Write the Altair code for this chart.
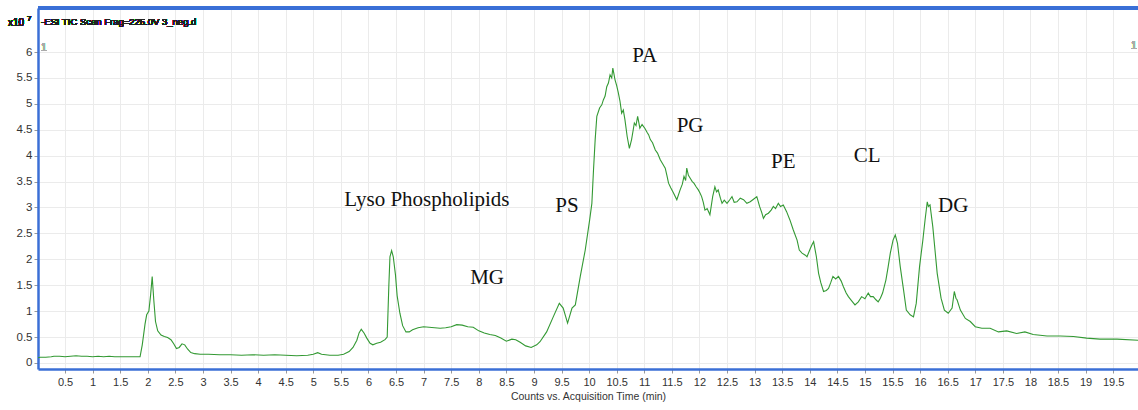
import altair as alt
import pandas as pd

# Retention time (min) and TIC counts (x10^7)
time_min = [
    0.00, 0.05, 0.15, 0.25, 0.30, 0.40, 0.50, 0.60, 0.70, 0.80, 0.90, 1.00, 1.10, 1.20, 1.30,
    1.40, 1.50, 1.60, 1.70, 1.80, 1.86,
    1.90, 1.95, 1.98, 2.02, 2.05, 2.08, 2.11, 2.14, 2.18, 2.24, 2.30, 2.36, 2.42, 2.47, 2.52,
    2.57, 2.62, 2.67, 2.72, 2.78, 2.85, 2.95, 3.10, 3.30, 3.50, 3.70, 3.90, 4.10, 4.30, 4.50,
    4.70, 4.90, 5.00, 5.08, 5.15, 5.30, 5.45, 5.55, 5.65, 5.72, 5.79, 5.83, 5.87, 5.92, 5.97,
    6.03, 6.08, 6.15, 6.22, 6.30, 6.34, 6.37, 6.39, 6.42, 6.45, 6.49, 6.52, 6.57, 6.62, 6.68,
    6.74, 6.80, 6.90, 7.00, 7.10, 7.20, 7.30, 7.40, 7.50, 7.60, 7.70, 7.80, 7.90, 8.00, 8.10,
    8.20, 8.30, 8.40, 8.50, 8.60, 8.67, 8.75, 8.85, 8.95, 9.05, 9.11,
    9.23, 9.35, 9.46, 9.53, 9.61, 9.69, 9.75, 9.84, 9.93, 10.01, 10.05, 10.08, 10.11, 10.14,
    10.19, 10.23, 10.26, 10.29, 10.32, 10.35, 10.38, 10.41, 10.43, 10.45, 10.47, 10.50, 10.53,
    10.56, 10.59, 10.62, 10.65, 10.69, 10.73, 10.77, 10.80, 10.82, 10.85, 10.88, 10.92, 10.96,
    11.01, 11.05, 11.08, 11.11, 11.15, 11.20, 11.24, 11.29, 11.33, 11.38, 11.41, 11.44, 11.48,
    11.53, 11.59, 11.65, 11.69, 11.72, 11.75, 11.77, 11.80, 11.83, 11.87, 11.90, 11.94, 11.98,
    12.01, 12.04, 12.07, 12.10, 12.14, 12.19, 12.24, 12.28, 12.31, 12.34, 12.38, 12.41, 12.45,
    12.50, 12.55, 12.59, 12.63, 12.68, 12.74, 12.80, 12.86, 12.92, 12.98, 13.04, 13.07, 13.09,
    13.13, 13.16, 13.20, 13.25, 13.30, 13.34, 13.38, 13.43, 13.47, 13.52, 13.58, 13.64, 13.70,
    13.77, 13.81, 13.86, 13.92, 13.95, 14.01, 14.04, 14.07, 14.12, 14.16, 14.20, 14.25, 14.30,
    14.34, 14.38, 14.42, 14.47, 14.52, 14.57, 14.61, 14.66, 14.70, 14.76, 14.82, 14.88, 14.94,
    15.00, 15.06, 15.10, 15.15, 15.20, 15.24, 15.28, 15.32, 15.38, 15.42, 15.46, 15.51, 15.55,
    15.59, 15.64, 15.70, 15.75, 15.82, 15.88, 15.93, 15.99, 16.05, 16.09, 16.13, 16.15, 16.18,
    16.23, 16.27, 16.31, 16.38, 16.44, 16.51, 16.58, 16.62, 16.65, 16.67, 16.73, 16.82, 16.91,
    17.00, 17.12, 17.27, 17.42, 17.57, 17.75, 17.90, 18.05, 18.30, 18.54, 18.78, 19.02, 19.26,
    19.57, 19.95,
]
tic = [
    0.10, 0.11, 0.11, 0.12, 0.13, 0.13, 0.12, 0.13, 0.14, 0.13, 0.13, 0.12, 0.13, 0.12, 0.13,
    0.12, 0.12, 0.12, 0.12, 0.12, 0.12,
    0.35, 0.75, 0.93, 1.00, 1.30, 1.67, 1.20, 0.80, 0.62, 0.54, 0.51, 0.49, 0.45, 0.37, 0.28,
    0.30, 0.37, 0.35, 0.27, 0.20, 0.18, 0.17, 0.17, 0.16, 0.16, 0.15, 0.16, 0.15, 0.16, 0.15,
    0.14, 0.15, 0.17, 0.20, 0.17, 0.15, 0.15, 0.17, 0.22, 0.30, 0.44, 0.58, 0.65, 0.58, 0.48,
    0.38, 0.35, 0.38, 0.40, 0.45, 0.50, 1.50, 2.05, 2.17, 2.05, 1.70, 1.30, 0.96, 0.72, 0.60,
    0.60, 0.64, 0.68, 0.70, 0.69, 0.68, 0.67, 0.68, 0.70, 0.74, 0.73, 0.70, 0.69, 0.62, 0.58,
    0.55, 0.53, 0.48, 0.42, 0.46, 0.45, 0.40, 0.33, 0.30, 0.35, 0.41,
    0.60, 0.89, 1.15, 1.06, 0.77, 1.06, 1.12, 1.67, 2.18, 2.76, 3.08, 3.73, 4.31, 4.76,
    4.92, 4.98, 5.08, 5.15, 5.33, 5.40, 5.56, 5.50, 5.69, 5.58, 5.46, 5.35, 5.21,
    5.05, 4.82, 4.88, 4.69, 4.37, 4.14, 4.31, 4.50, 4.63, 4.58, 4.76, 4.53, 4.60,
    4.53, 4.45, 4.40, 4.31, 4.25, 4.11, 4.05, 3.92, 3.85, 3.76, 3.62, 3.47, 3.38,
    3.28, 3.15, 3.34, 3.45, 3.60, 3.52, 3.76, 3.62, 3.57, 3.50, 3.47, 3.40, 3.34,
    3.28, 3.21, 3.10, 2.95, 2.98, 2.86, 3.21, 3.40, 3.30, 3.34, 3.18, 3.08, 3.14,
    3.08, 3.15, 3.21, 3.10, 3.11, 3.18, 3.15, 3.08, 3.11, 3.16, 3.21, 3.10, 3.02,
    2.90, 2.79, 2.86, 2.89, 2.95, 3.02, 2.98, 3.08, 3.02, 3.05, 2.92, 2.76, 2.57,
    2.37, 2.18, 2.12, 2.08, 2.05, 2.21, 2.28, 2.34, 2.05, 1.73, 1.55, 1.38, 1.40,
    1.44, 1.55, 1.67, 1.62, 1.67, 1.58, 1.47, 1.35, 1.28, 1.20, 1.12, 1.18, 1.28,
    1.24, 1.35, 1.28, 1.28, 1.22, 1.18, 1.25, 1.35, 1.60, 1.85, 2.12, 2.37, 2.47,
    2.31, 1.86, 1.41, 1.02, 0.93, 0.89, 1.15, 1.86, 2.37, 2.76, 3.11, 3.02, 3.05,
    2.63, 2.18, 1.73, 1.25, 1.02, 0.96, 1.06, 1.38, 1.25, 1.22, 1.02, 0.86, 0.80,
    0.70, 0.67, 0.67, 0.60, 0.62, 0.57, 0.60, 0.55, 0.52, 0.52, 0.51, 0.48, 0.46,
    0.46, 0.44,
]

# Lipid class labels and where they sit (minutes, x10^7 counts)
label_text = ["Lyso Phospholipids", "MG", "PS", "PA", "PG", "PE", "CL", "DG"]
label_x = [7.06, 8.15, 9.60, 11.01, 11.83, 13.52, 15.04, 16.60]
label_y = [3.15, 1.64, 3.03, 5.93, 4.58, 3.88, 4.00, 3.03]

x_ticks = [i * 0.5 for i in range(1, 40)]
y_ticks = [i * 0.5 for i in range(0, 13)]

trace = pd.DataFrame({"t": time_min, "v": tic})
labels = pd.DataFrame({"label": label_text, "t": label_x, "v": label_y})

W, H = 1100, 361
BLUE = "#3b6fd6"
AXFONT = "Liberation Sans"

xs = alt.Scale(domain=[0.01, 19.95], nice=False, zero=False)
ys = alt.Scale(domain=[-0.116, 6.849], nice=False, zero=False)

x_axis = alt.Axis(values=x_ticks, format=".1~f", title="Counts vs. Acquisition Time (min)",
                  grid=True, gridColor="#ebebeb", gridWidth=1,
                  domainColor=BLUE, domainWidth=2.5, tickColor="#999999", tickSize=4,
                  labelFont=AXFONT, labelFontSize=11, labelColor="#333333", labelPadding=3,
                  labelOverlap=False, labelFlush=False, labelBound=False, labelSeparation=0,
                  titleFont=AXFONT, titleFontSize=10.5, titleFontWeight="normal",
                  titleColor="#333333", titlePadding=4)
y_axis = alt.Axis(values=y_ticks, format=".1~f", title=None,
                  grid=True, gridColor="#ebebeb", gridWidth=1,
                  domainColor=BLUE, domainWidth=2.5, tickColor="#999999", tickSize=4,
                  labelFont=AXFONT, labelFontSize=11.5, labelColor="#333333", labelPadding=2,
                  labelOverlap=False, labelFlush=False, labelBound=False, labelSeparation=0)

line = alt.Chart(trace).mark_line(color="#339933", strokeWidth=1.1, clip=True).encode(
    x=alt.X("t:Q", scale=xs, axis=x_axis),
    y=alt.Y("v:Q", scale=ys, axis=y_axis),
)

text = alt.Chart(labels).mark_text(font="Liberation Serif", fontSize=21, color="#111111",
                                   baseline="middle", align="center").encode(
    x=alt.X("t:Q", scale=xs, axis=x_axis),
    y=alt.Y("v:Q", scale=ys, axis=y_axis),
    text="label:N",
)

top_rule = alt.Chart(trace).mark_rule(color=BLUE, strokeWidth=2.5).encode(
    x=alt.value(0), x2=alt.value(W), y=alt.value(0)
)

title_txt = alt.Chart(trace).mark_text(align="left", baseline="middle", font=AXFONT,
                                       fontSize=9.5, color="#222222").encode(
    x=alt.value(3), y=alt.value(14), text=alt.value("-ESI TIC Scan Frag=225.0V 3_neg.d")
)
x10_txt = alt.Chart(trace).mark_text(align="right", baseline="middle", font=AXFONT,
                                     fontSize=10, color="#222222").encode(
    x=alt.value(-14), y=alt.value(15), text=alt.value("x10")
)
exp_txt = alt.Chart(trace).mark_text(align="left", baseline="middle", font=AXFONT,
                                     fontSize=8, color="#222222").encode(
    x=alt.value(-11), y=alt.value(11), text=alt.value("7")
)
one_left = alt.Chart(trace).mark_text(align="left", baseline="middle", font=AXFONT,
                                      fontSize=10, color="#aaaaaa").encode(
    x=alt.value(3), y=alt.value(40), text=alt.value("1")
)
one_right = alt.Chart(trace).mark_text(align="left", baseline="middle", font=AXFONT,
                                       fontSize=10, color="#aaaaaa").encode(
    x=alt.value(1093), y=alt.value(38), text=alt.value("1")
)

chart = alt.layer(line, text, top_rule, title_txt, x10_txt, exp_txt, one_left, one_right).properties(
    width=W, height=H,
    autosize=alt.AutoSizeParams(type="none"),
    padding={"left": 38, "top": 8, "right": 0, "bottom": 41},
    background="white",
).configure_view(stroke=None).configure_axis(labelOverlap=False)

chart.save("out.html", embed_options={"renderer": "svg", "actions": False})
